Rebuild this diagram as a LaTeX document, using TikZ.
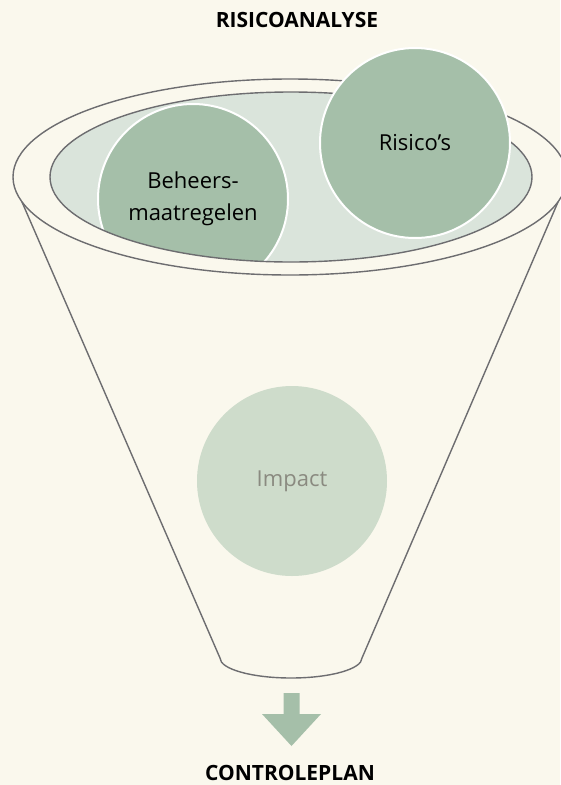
\documentclass[tikz,border=0pt]{standalone}
\usepackage{fontspec}
\setmainfont{Open Sans}
\usetikzlibrary{calc, positioning, shapes}
\definecolor{paper}{HTML}{FAF8ED}
\definecolor{sage}{HTML}{A5BFA9}
\definecolor{pale sage}{HTML}{DAE4DB}
\definecolor{mist}{HTML}{CEDCCB}
\definecolor{rim}{HTML}{6D6D70}
\definecolor{faded}{HTML}{8A8A80}
\tikzset{
    funnel line/.style={draw=rim, line width=1.4pt},
    bowl circle/.style={circle, minimum size=190pt, inner sep=0pt, align=center,
        font=\fontsize{22}{32}\selectfont},
    dark circle/.style={bowl circle, fill=sage, draw=white, line width=2pt},
    light circle/.style={bowl circle, fill=mist, text=faded},
    title text/.style={font=\fontsize{21}{24}\selectfont\bfseries, inner sep=0pt},
}

\begin{document}
\begin{tikzpicture}[x=1pt, y=-1pt]

\fill[paper] (0,0) rectangle (560,785);
\useasboundingbox (0,0) rectangle (560,785);

\coordinate (rim left) at (22,202);
\coordinate (rim right) at (558,202);
\coordinate (neck left) at (220,658);
\coordinate (neck right) at (362,658);

\draw[funnel line] (290,177) ellipse [x radius=277, y radius=98];
\draw[funnel line] (rim left) -- (neck left);
\draw[funnel line] (rim right) -- (neck right);
\draw[funnel line] (neck left) arc [start angle=180, end angle=0, x radius=71, y radius=20];

\fill[pale sage] (291,177) ellipse [x radius=241, y radius=85];
\begin{scope}
    \clip (291,177) ellipse [x radius=241, y radius=85];
    \node[dark circle] (beheers) at (193,199) {Beheers-\\maatregelen};
\end{scope}
\draw[funnel line] (291,177) ellipse [x radius=241, y radius=85];

\node[dark circle] (risico) at (415,143) {Risico’s};
\node[light circle] (impact) at (292,481) {Impact};

\fill[sage] (283.5,693) -- (299.5,693) -- (299.5,714) -- (321,714) -- (291.5,746)
    -- (262,714) -- (283.5,714) -- cycle;

\node[title text] (analyse) at (297,20) {RISICOANALYSE};
\node[title text] (plan) at (290,773) {CONTROLEPLAN};

\end{tikzpicture}
\end{document}
